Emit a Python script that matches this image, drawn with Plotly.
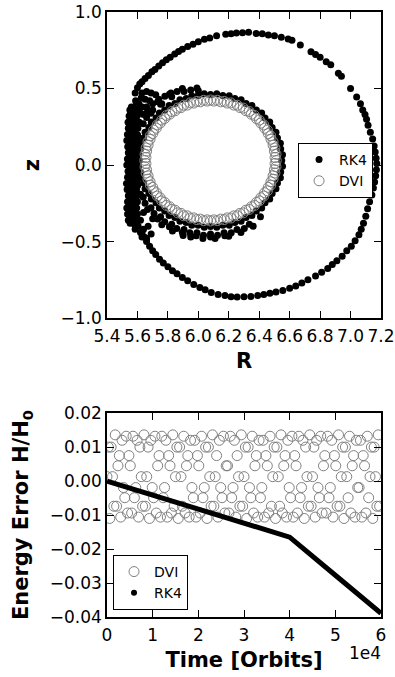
import plotly.graph_objects as go

# ---------------- top panel: orbit in the (R, z) plane ----------------
# RK4 outer loop
rk4_outer = [
    (5.585, 0.470), (5.600, 0.505), (5.615, 0.530), (5.630, 0.545), (5.650, 0.565),
    (5.672, 0.585), (5.695, 0.610), (5.715, 0.625), (5.740, 0.648), (5.765, 0.668),
    (5.790, 0.688), (5.815, 0.705), (5.845, 0.725), (5.870, 0.742), (5.895, 0.757),
    (5.930, 0.775), (5.965, 0.790), (6.000, 0.805), (6.040, 0.822), (6.075, 0.830),
    (6.120, 0.845), (6.180, 0.855), (6.215, 0.858), (6.250, 0.862), (6.290, 0.865),
    (6.330, 0.868), (6.380, 0.860), (6.420, 0.858), (6.460, 0.850), (6.500, 0.845),
    (6.545, 0.835), (6.590, 0.823), (6.615, 0.815), (6.670, 0.785), (6.740, 0.740),
    (6.770, 0.722), (6.800, 0.705), (6.840, 0.675), (6.870, 0.655), (6.920, 0.600),
    (6.940, 0.580), (7.000, 0.500), (7.040, 0.445), (7.065, 0.400), (7.080, 0.360),
    (7.095, 0.330), (7.105, 0.300), (7.115, 0.260), (7.130, 0.215), (7.145, 0.170),
    (7.155, 0.125), (7.162, 0.085), (7.168, 0.045), (7.172, 0.010), (7.170, -0.030),
    (7.165, -0.070), (7.158, -0.110), (7.150, -0.150), (7.140, -0.195), (7.125, -0.240),
    (7.112, -0.285), (7.100, -0.335), (7.085, -0.380), (7.070, -0.420), (7.055, -0.455),
    (7.030, -0.495), (7.005, -0.530), (6.975, -0.560), (6.945, -0.595), (6.910, -0.625),
    (6.880, -0.650), (6.850, -0.675), (6.810, -0.700), (6.770, -0.725), (6.720, -0.750),
    (6.680, -0.770), (6.640, -0.790), (6.600, -0.805), (6.555, -0.820), (6.510, -0.830),
    (6.470, -0.838), (6.430, -0.845), (6.390, -0.852), (6.345, -0.858), (6.300, -0.860),
    (6.255, -0.862), (6.215, -0.860), (6.175, -0.852), (6.130, -0.845), (6.085, -0.832),
    (6.045, -0.815), (6.010, -0.800), (5.970, -0.780), (5.930, -0.755), (5.895, -0.735),
    (5.860, -0.710), (5.830, -0.690), (5.800, -0.665), (5.770, -0.640), (5.745, -0.615),
    (5.720, -0.585), (5.700, -0.560), (5.680, -0.530), (5.660, -0.500), (5.645, -0.470),
    (5.630, -0.440),
]

# RK4 points hugging the DVI ring
rk4_band = [
    (6.548, 0.030), (6.541, 0.105), (6.520, 0.177), (6.485, 0.246), (6.438, 0.307),
    (6.381, 0.360), (6.314, 0.403), (6.240, 0.435), (6.161, 0.454), (6.080, 0.461),
    (5.999, 0.454), (5.920, 0.435), (5.846, 0.403), (5.779, 0.360), (5.722, 0.307),
    (5.675, 0.246), (5.640, 0.177), (5.619, 0.105), (5.612, 0.030), (5.619, -0.045),
    (5.640, -0.117), (5.675, -0.186), (5.722, -0.247), (5.779, -0.300), (5.846, -0.343),
    (5.920, -0.375), (5.999, -0.394), (6.080, -0.401), (6.161, -0.394), (6.240, -0.375),
    (6.314, -0.343), (6.381, -0.300), (6.438, -0.247), (6.485, -0.186), (6.520, -0.117),
    (6.541, -0.045),
    (6.553, 0.068), (6.539, 0.143), (6.510, 0.215), (6.469, 0.281), (6.416, 0.340),
    (6.352, 0.389), (6.281, 0.427), (6.203, 0.453), (6.121, 0.466), (6.039, 0.466),
    (5.957, 0.453), (5.879, 0.427), (5.808, 0.389), (5.744, 0.340), (5.691, 0.281),
    (5.650, 0.215), (5.621, 0.143), (5.607, 0.068), (5.607, -0.008), (5.621, -0.083),
    (5.650, -0.155), (5.691, -0.221), (5.744, -0.280), (5.808, -0.329), (5.879, -0.367),
    (5.957, -0.393), (6.039, -0.406), (6.121, -0.406), (6.203, -0.393), (6.281, -0.367),
    (6.352, -0.329), (6.416, -0.280), (6.469, -0.221), (6.510, -0.155), (6.539, -0.083),
    (6.553, -0.008),
    (5.601, -0.134), (5.638, -0.210), (5.689, -0.279), (5.752, -0.338), (5.825, -0.386),
    (5.906, -0.421), (5.991, -0.443), (6.080, -0.450), (6.169, -0.443), (6.254, -0.421),
    (6.335, -0.386), (6.408, -0.338),
    (5.991, 0.503), (5.906, 0.481), (5.825, 0.446), (5.752, 0.398), (5.689, 0.339),
    (5.638, 0.270), (5.601, 0.194), (5.578, 0.113),
    (5.709, -0.316), (5.779, -0.371), (5.858, -0.414), (5.944, -0.443), (6.034, -0.458),
    (6.126, -0.458), (6.216, -0.443), (6.302, -0.414),
    (5.666, -0.291), (5.733, -0.353), (5.810, -0.403), (5.895, -0.440), (5.986, -0.462),
    (6.080, -0.470), (6.174, -0.462),
    (5.895, 0.500), (5.810, 0.463), (5.733, 0.413), (5.666, 0.351), (5.612, 0.280),
    (5.573, 0.201), (5.548, 0.117),
    (5.700, 0.400), (5.740, 0.430), (5.780, 0.450), (5.820, 0.470), (5.860, 0.480),
    (5.760, 0.400), (5.660, 0.380), (5.620, 0.340), (5.950, 0.490), (6.000, 0.485),
    (5.700, 0.360), (5.660, 0.310),
    (5.900, -0.460), (5.950, -0.470), (6.030, -0.480), (6.110, -0.480), (6.200, -0.465),
    (5.830, -0.430), (5.760, -0.390), (5.700, -0.350), (5.650, -0.250), (5.620, -0.190),
    (6.280, -0.440), (6.360, -0.400),
]

# RK4 points of the dense crescent on the left
rk4_blob = [
    (5.540, -0.36), (5.535, -0.32), (5.530, -0.28), (5.535, -0.24), (5.540, -0.20),
    (5.532, -0.16), (5.528, -0.12), (5.535, -0.08), (5.538, -0.04), (5.530, 0.00),
    (5.534, 0.04), (5.540, 0.08), (5.536, 0.12), (5.530, 0.16), (5.534, 0.20),
    (5.540, 0.24), (5.538, 0.28), (5.545, 0.32), (5.550, 0.36),
    (5.552, -0.38), (5.550, -0.34), (5.548, -0.30), (5.552, -0.26), (5.549, -0.22),
    (5.551, -0.18), (5.547, -0.14), (5.552, -0.10), (5.550, -0.06), (5.548, -0.02),
    (5.551, 0.02), (5.549, 0.06), (5.552, 0.10), (5.548, 0.14), (5.550, 0.18),
    (5.552, 0.22), (5.549, 0.26), (5.553, 0.30), (5.556, 0.34), (5.560, 0.38),
    (5.585, -0.42), (5.575, -0.38), (5.568, -0.34), (5.565, -0.30), (5.570, -0.26),
    (5.562, -0.22), (5.566, -0.18), (5.570, -0.14), (5.564, -0.10), (5.568, -0.06),
    (5.572, -0.02), (5.566, 0.02), (5.563, 0.06), (5.570, 0.10), (5.567, 0.14),
    (5.565, 0.18), (5.570, 0.22), (5.566, 0.26), (5.572, 0.30), (5.575, 0.34),
    (5.580, 0.38), (5.588, 0.42),
    (5.586, -0.40), (5.584, -0.36), (5.583, -0.32), (5.585, -0.28), (5.582, -0.24),
    (5.584, -0.20), (5.586, -0.16), (5.583, -0.12), (5.585, -0.08), (5.582, -0.04),
    (5.584, 0.00), (5.586, 0.04), (5.583, 0.08), (5.585, 0.12), (5.584, 0.16),
    (5.582, 0.20), (5.585, 0.24), (5.587, 0.28), (5.586, 0.32), (5.590, 0.36),
    (5.596, 0.40),
    (5.620, -0.44), (5.605, -0.40), (5.598, -0.36), (5.600, -0.32), (5.595, -0.28),
    (5.600, -0.24), (5.598, -0.20), (5.594, -0.16), (5.600, -0.12), (5.597, -0.08),
    (5.595, -0.04), (5.600, 0.00), (5.598, 0.04), (5.602, 0.08), (5.596, 0.12),
    (5.600, 0.16), (5.598, 0.20), (5.603, 0.24), (5.600, 0.28), (5.598, 0.32),
    (5.605, 0.36), (5.610, 0.40), (5.625, 0.44),
    (5.630, 0.47), (5.660, 0.48), (5.690, 0.47), (5.720, 0.46), (5.650, 0.43),
    (5.680, 0.42), (5.630, 0.38), (5.640, 0.33),
    (5.630, -0.47), (5.660, -0.48), (5.690, -0.45), (5.640, -0.42), (5.670, -0.40),
    (5.620, -0.36), (5.640, -0.31),
]

# DVI ring (outer pass)
dvi_R_a = [6.512, 6.510, 6.503, 6.491, 6.475, 6.454, 6.430, 6.401, 6.369, 6.334,
           6.296, 6.256, 6.214, 6.170, 6.125, 6.080, 6.035, 5.990, 5.946, 5.904,
           5.864, 5.826, 5.791, 5.759, 5.730, 5.706, 5.685, 5.669, 5.657, 5.650,
           5.648, 5.650, 5.657, 5.669, 5.685, 5.706, 5.730, 5.759, 5.791, 5.826,
           5.864, 5.904, 5.946, 5.990, 6.035, 6.080, 6.125, 6.170, 6.214, 6.256,
           6.296, 6.334, 6.369, 6.401, 6.430, 6.454, 6.475, 6.491, 6.503, 6.510]
dvi_z_a = [0.030, 0.071, 0.112, 0.152, 0.191, 0.228, 0.262, 0.294, 0.324, 0.350,
           0.372, 0.391, 0.406, 0.416, 0.423, 0.425, 0.423, 0.416, 0.406, 0.391,
           0.372, 0.350, 0.324, 0.294, 0.262, 0.228, 0.191, 0.152, 0.112, 0.071,
           0.030, -0.011, -0.052, -0.092, -0.131, -0.168, -0.202, -0.234, -0.264, -0.290,
           -0.312, -0.331, -0.346, -0.356, -0.363, -0.365, -0.363, -0.356, -0.346, -0.331,
           -0.312, -0.290, -0.264, -0.234, -0.202, -0.168, -0.131, -0.092, -0.052, -0.011]
# DVI ring (inner pass)
dvi_R_b = [6.504, 6.500, 6.491, 6.477, 6.459, 6.436, 6.410, 6.381, 6.348, 6.312,
           6.273, 6.232, 6.190, 6.147, 6.102, 6.058, 6.013, 5.970, 5.928, 5.887,
           5.848, 5.812, 5.779, 5.750, 5.724, 5.701, 5.683, 5.670, 5.660, 5.656,
           5.656, 5.660, 5.670, 5.683, 5.701, 5.724, 5.750, 5.779, 5.812, 5.848,
           5.887, 5.928, 5.970, 6.013, 6.058, 6.102, 6.147, 6.190, 6.232, 6.273,
           6.312, 6.348, 6.381, 6.410, 6.436, 6.459, 6.477, 6.491, 6.500, 6.504]
dvi_z_b = [0.050, 0.091, 0.130, 0.169, 0.206, 0.241, 0.274, 0.304, 0.332, 0.355,
           0.376, 0.392, 0.405, 0.413, 0.418, 0.418, 0.413, 0.405, 0.392, 0.376,
           0.355, 0.332, 0.304, 0.274, 0.241, 0.206, 0.169, 0.130, 0.091, 0.050,
           0.010, -0.031, -0.070, -0.109, -0.146, -0.181, -0.214, -0.244, -0.272, -0.295,
           -0.316, -0.332, -0.345, -0.353, -0.358, -0.358, -0.353, -0.345, -0.332, -0.316,
           -0.295, -0.272, -0.244, -0.214, -0.181, -0.146, -0.109, -0.070, -0.031, 0.010]

r_ticks = [5.4, 5.6, 5.8, 6.0, 6.2, 6.4, 6.6, 6.8, 7.0, 7.2]
z_ticks = [-1.0, -0.5, 0.0, 0.5, 1.0]

# ---------------- bottom panel: energy error ----------------
rk4_time = [0, 10000, 20000, 30000, 40000, 50000, 60000]
rk4_energy = [0.0, -0.0041, -0.0083, -0.0124, -0.0165, -0.0277, -0.0389]

dvi_time = list(range(0, 60000, 300))
dvi_energy = [
    0.0013, 0.0100, -0.0110, 0.0100, 0.0013, -0.0074, 0.0136, -0.0074,
    0.0045, 0.0075, -0.0106, 0.0120, -0.0019, -0.0049, 0.0132, -0.0094,
    0.0075, 0.0045, -0.0094, 0.0132, -0.0049, -0.0019, 0.0120, -0.0106,
    0.0100, 0.0013, -0.0074, 0.0136, -0.0074, 0.0013, 0.0100, -0.0110,
    0.0120, -0.0019, -0.0049, 0.0132, -0.0094, 0.0045, 0.0075, -0.0106,
    0.0132, -0.0049, -0.0019, 0.0120, -0.0106, 0.0075, 0.0045, -0.0094,
    0.0136, -0.0074, 0.0013, 0.0100, -0.0110, 0.0100, 0.0013, -0.0074,
    0.0132, -0.0094, 0.0045, 0.0075, -0.0106, 0.0120, -0.0019, -0.0049,
    0.0120, -0.0106, 0.0075, 0.0045, -0.0094, 0.0132, -0.0049, -0.0019,
    0.0100, -0.0110, 0.0100, 0.0013, -0.0074, 0.0136, -0.0074, 0.0013,
    0.0075, -0.0106, 0.0120, -0.0019, -0.0049, 0.0132, -0.0094, 0.0045,
    0.0045, -0.0094, 0.0132, -0.0049, -0.0019, 0.0120, -0.0106, 0.0075,
    0.0013, -0.0074, 0.0136, -0.0074, 0.0013, 0.0100, -0.0110, 0.0100,
    -0.0019, -0.0049, 0.0132, -0.0094, 0.0045, 0.0075, -0.0106, 0.0120,
    -0.0049, -0.0019, 0.0120, -0.0106, 0.0075, 0.0045, -0.0094, 0.0132,
    -0.0074, 0.0013, 0.0100, -0.0110, 0.0100, 0.0013, -0.0074, 0.0136,
    -0.0094, 0.0045, 0.0075, -0.0106, 0.0120, -0.0019, -0.0049, 0.0132,
    -0.0106, 0.0075, 0.0045, -0.0094, 0.0132, -0.0049, -0.0019, 0.0120,
    -0.0110, 0.0100, 0.0013, -0.0074, 0.0136, -0.0074, 0.0013, 0.0100,
    -0.0106, 0.0120, -0.0019, -0.0049, 0.0132, -0.0094, 0.0045, 0.0075,
    -0.0094, 0.0132, -0.0049, -0.0019, 0.0120, -0.0106, 0.0075, 0.0045,
    -0.0074, 0.0136, -0.0074, 0.0013, 0.0100, -0.0110, 0.0100, 0.0013,
    -0.0049, 0.0132, -0.0094, 0.0045, 0.0075, -0.0106, 0.0120, -0.0019,
    -0.0019, 0.0120, -0.0106, 0.0075, 0.0045, -0.0094, 0.0132, -0.0049,
    0.0013, 0.0100, -0.0110, 0.0100, 0.0013, -0.0074, 0.0136, -0.0074,
]

time_ticks = [0, 10000, 20000, 30000, 40000, 50000, 60000]
time_labels = ["0", "1", "2", "3", "4", "5", "6"]
energy_ticks = [-0.04, -0.03, -0.02, -0.01, 0.0, 0.01, 0.02]

# ---------------- figure ----------------
rk4_pts = rk4_outer + rk4_band + rk4_blob
rk4_R = [p[0] for p in rk4_pts]
rk4_z = [p[1] for p in rk4_pts]
dvi_R = dvi_R_a + dvi_R_b
dvi_z = dvi_z_a + dvi_z_b

FONT = "DejaVu Sans"
GREY = "#808080"

fig = go.Figure()
fig.add_trace(go.Scatter(x=rk4_R, y=rk4_z, mode="markers", name="RK4",
                         marker=dict(color="black", size=7, line=dict(width=0)),
                         xaxis="x", yaxis="y", legend="legend"))
fig.add_trace(go.Scatter(x=dvi_R, y=dvi_z, mode="markers", name="DVI",
                         marker=dict(symbol="circle-open", color=GREY, size=10,
                                     line=dict(width=1, color=GREY)),
                         xaxis="x", yaxis="y", legend="legend"))

fig.add_trace(go.Scatter(x=dvi_time, y=dvi_energy, mode="markers", name="DVI",
                         marker=dict(symbol="circle-open", color=GREY, size=10,
                                     line=dict(width=1, color=GREY)),
                         xaxis="x2", yaxis="y2", legend="legend2"))
fig.add_trace(go.Scatter(x=rk4_time, y=rk4_energy, mode="lines", name="RK4",
                         line=dict(color="black", width=5), showlegend=False,
                         xaxis="x2", yaxis="y2"))
fig.add_trace(go.Scatter(x=[None], y=[None], mode="markers", name="RK4",
                         marker=dict(color="black", size=6),
                         xaxis="x2", yaxis="y2", legend="legend2"))

axis_common = dict(showline=True, linecolor="black", linewidth=1.5, mirror="ticks",
                   ticks="inside", ticklen=7, tickwidth=1, tickcolor="black",
                   showgrid=False, zeroline=False, tickangle=0, automargin=False,
                   tickfont=dict(family=FONT, size=17, color="black"))
title_font = dict(family=FONT, size=21, color="black")

fig.update_layout(
    width=395, height=677,
    margin=dict(l=107, r=14, t=12, b=60, autoexpand=False),
    paper_bgcolor="white", plot_bgcolor="white",
    font=dict(family=FONT, color="black"),
    xaxis=dict(axis_common, domain=[0, 1], anchor="y", range=[5.4, 7.2],
               tickvals=r_ticks, tickformat=".1f", ticklabelstandoff=2,
               title=dict(text="<b>R</b>", font=title_font, standoff=8)),
    yaxis=dict(axis_common, domain=[0.494, 1], anchor="x", range=[-1, 1],
               tickvals=z_ticks, tickformat=".1f",
               title=dict(text="<b>z</b>", font=title_font)),
    xaxis2=dict(axis_common, domain=[0, 1], anchor="y2", range=[0, 60000],
                tickvals=time_ticks, ticktext=time_labels, ticklabelstandoff=2,
                title=dict(text="<b>Time [Orbits]</b>", font=title_font, standoff=8)),
    yaxis2=dict(axis_common, domain=[0, 0.337], anchor="x2", range=[-0.04, 0.02],
                tickvals=energy_ticks, tickformat=".2f",
                title=dict(text="<b>Energy Error H/H<sub>0</sub></b>", font=title_font)),
    legend=dict(x=0.971, xanchor="right", y=0.7835, yanchor="top",
                bordercolor="black", borderwidth=1, bgcolor="white",
                font=dict(family=FONT, size=14, color="black"), tracegroupgap=0),
    legend2=dict(x=0.022, xanchor="left", y=0.0116, yanchor="bottom",
                 bordercolor="black", borderwidth=1, bgcolor="white",
                 font=dict(family=FONT, size=14, color="black"), tracegroupgap=0),
    annotations=[dict(text="1e4", xref="paper", yref="paper", x=1.007, y=-0.060,
                      xanchor="right", yanchor="middle", showarrow=False,
                      font=dict(family=FONT, size=17, color="black"))],
    showlegend=True,
)

fig.write_html("out.html", config={"displayModeBar": False},
               post_script="document.body.style.margin='0';document.body.style.overflow='hidden';")
